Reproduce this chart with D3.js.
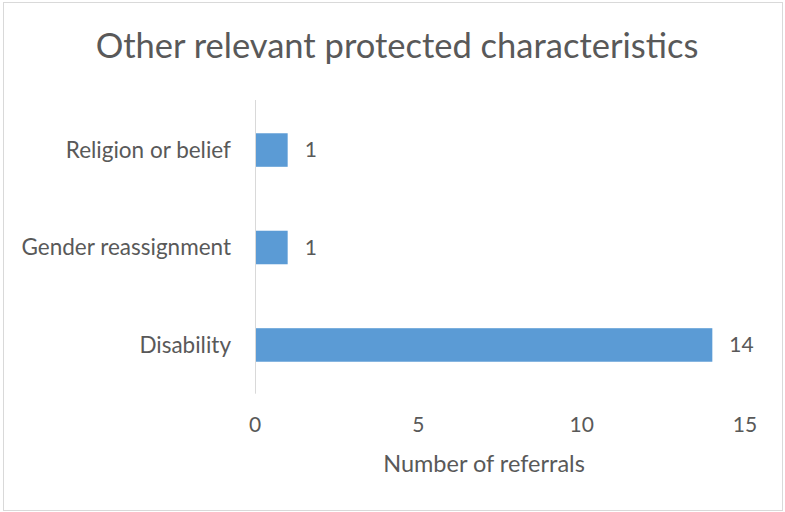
<!DOCTYPE html>
<html><head><meta charset="utf-8">
<script src="https://cdn.jsdelivr.net/npm/d3@7"></script>
<style>body{margin:0;background:#fff}svg{display:block}text{font-family:Lato,"Open Sans",sans-serif;fill:#595959}</style>
</head><body><svg id="c" width="785" height="512"></svg>
<script>
const categories = ["Religion or belief", "Gender reassignment", "Disability"];
const values = [1, 1, 14];
const xTicks = [0, 5, 10, 15];
const title = "Other relevant protected characteristics";
const xTitle = "Number of referrals";

const svg = d3.select("#c");
svg.append("rect").attr("x",3.5).attr("y",2.5).attr("width",779).attr("height",508)
  .attr("fill","#fff").attr("stroke","#d9d9d9").attr("stroke-width",1);

const x = d3.scaleLinear().domain([0,15]).range([255,745]);
const y = d3.scaleBand().domain(categories).range([101.3,393.7]).paddingInner(0.656).paddingOuter(0.328);

svg.append("text").attr("x",397).attr("y",58).attr("text-anchor","middle")
  .style("font-size","34.5px").text(title);

svg.selectAll("rect.bar").data(values).join("rect").attr("class","bar")
  .attr("x",x(0)).attr("y",(d,i)=>y(categories[i])).attr("width",d=>x(d)-x(0))
  .attr("height",y.bandwidth()).attr("fill","#5b9bd5");

svg.append("line").attr("x1",x(0)+0.5).attr("x2",x(0)+0.5).attr("y1",100).attr("y2",393.7)
  .attr("stroke","#d9d9d9").attr("stroke-width",1);

svg.selectAll("text.cat").data(categories).join("text").attr("class","cat")
  .attr("x",231).attr("y",d=>y(d)+y.bandwidth()/2).attr("dy","0.35em")
  .attr("text-anchor","end").style("font-size","22.5px").text(d=>d);

svg.selectAll("text.val").data(values).join("text").attr("class","val")
  .attr("x",d=>x(d)+17).attr("y",(d,i)=>y(categories[i])+y.bandwidth()/2).attr("dy","0.35em")
  .style("font-size","21px").text(d=>d);

svg.selectAll("text.tick").data(xTicks).join("text").attr("class","tick")
  .attr("x",d=>x(d)).attr("y",432).attr("text-anchor","middle")
  .style("font-size","21px").text(d=>d);

svg.append("text").attr("x",484).attr("y",472).attr("text-anchor","middle")
  .style("font-size","23.5px").text(xTitle);
</script></body></html>
